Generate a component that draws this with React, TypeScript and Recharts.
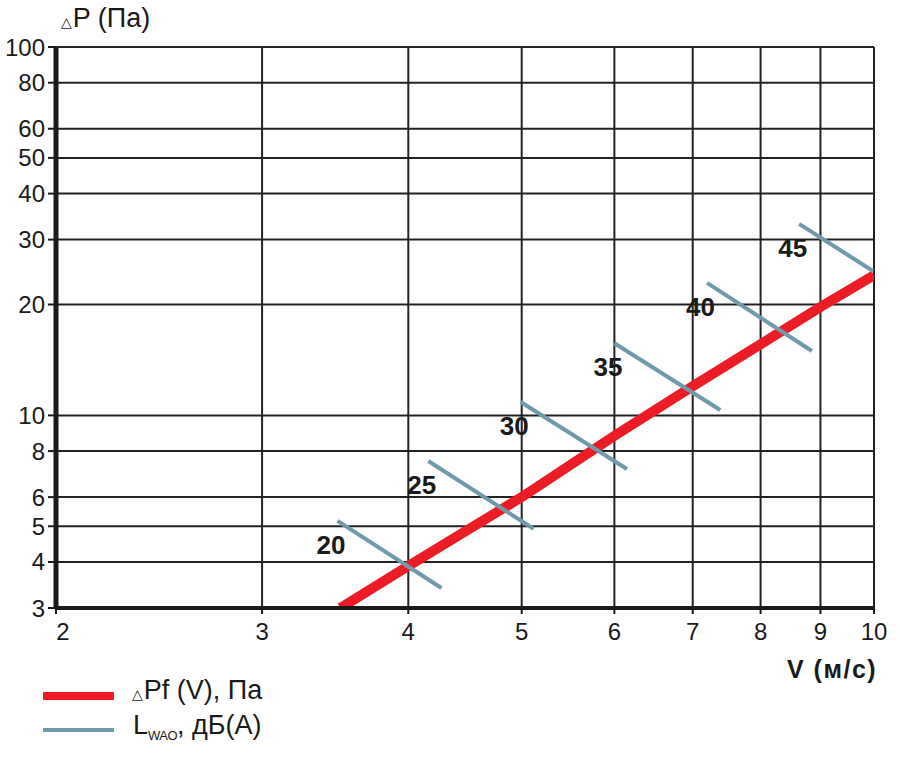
import { CartesianGrid, Line, LineChart, XAxis, YAxis } from "recharts";

// axis ticks (log-log chart)
const xTicks = [2, 3, 4, 5, 6, 7, 8, 9, 10];
const yTicks = [3, 4, 5, 6, 8, 10, 20, 30, 40, 50, 60, 80, 100];

// ΔPf(V), Pa
const pressureV = [3.5, 4, 5, 6, 7, 8, 9, 10];
const pressureP = [3, 3.9, 6.0, 8.8, 12.0, 15.6, 19.7, 24.0];

// LWAO, dB(A) — short blue segments crossing the red line
const noiseLevels = [20, 25, 30, 35, 40, 45];
const noiseStartV = [3.48, 4.16, 4.99, 6.0, 7.2, 8.63];
const noiseStartP = [5.17, 7.52, 10.87, 15.7, 22.9, 33.1];
const noiseEndV = [4.27, 5.12, 6.15, 7.39, 8.85, 9.98];
const noiseEndP = [3.4, 4.92, 7.15, 10.34, 14.95, 24.65];

const RED = "#ec1c24";
const BLUE = "#6e9aab";
const INK = "#1a1a1a";
const FONT = "'Liberation Sans', Arial, Helvetica, sans-serif";

export default function App() {
  const redData = pressureV.map((v, i) => ({ v, p: pressureP[i] }));
  const segments = noiseLevels.map((level, i) => ({
    level,
    data: [
      { v: noiseStartV[i], p: noiseStartP[i] },
      { v: noiseEndV[i], p: noiseEndP[i] },
    ],
  }));

  return (
    <div
      style={{
        position: "absolute",
        left: 0,
        top: 0,
        width: 900,
        height: 761,
        background: "#fff",
        fontFamily: FONT,
        color: INK,
      }}
    >
      <LineChart width={900} height={761} margin={{ top: 47, right: 26, bottom: 123, left: 0 }}>
        <CartesianGrid stroke="#222" strokeWidth={2} />
        <XAxis
          type="number"
          dataKey="v"
          scale="log"
          domain={[2, 10]}
          ticks={xTicks}
          interval={0}
          allowDataOverflow
          height={30}
          axisLine={{ stroke: INK, strokeWidth: 4 }}
          tickLine={{ stroke: INK, strokeWidth: 2 }}
          tickSize={6}
          tickMargin={9}
          tick={(p: any) => (
            <text
              x={p.x + (p.payload.value === 2 ? 7 : 0)}
              y={p.y}
              dy="0.71em"
              textAnchor="middle"
              fontSize={24}
              fontFamily={FONT}
              fill={INK}
            >
              {p.payload.value}
            </text>
          )}
        />
        <YAxis
          type="number"
          dataKey="p"
          scale="log"
          domain={[3, 100]}
          ticks={yTicks}
          interval={0}
          allowDataOverflow
          width={56}
          axisLine={{ stroke: INK, strokeWidth: 5 }}
          tickLine={{ stroke: INK, strokeWidth: 2 }}
          tickSize={8}
          tickMargin={3}
          tick={{ fontSize: 24, fontFamily: FONT, fill: INK }}
        />
        <Line
          data={redData}
          dataKey="p"
          type="linear"
          stroke={RED}
          strokeWidth={10}
          dot={false}
          activeDot={false}
          isAnimationActive={false}
        />
        {segments.map((s) => (
          <Line
            key={s.level}
            data={s.data}
            dataKey="p"
            type="linear"
            stroke={BLUE}
            strokeWidth={4}
            dot={false}
            activeDot={false}
            isAnimationActive={false}
            label={(props: any) =>
              props.index === 0 ? (
                <text
                  x={props.x + 8}
                  y={props.y + 33}
                  textAnchor="end"
                  fontSize={26}
                  fontWeight="bold"
                  fontFamily={FONT}
                  fill={INK}
                >
                  {s.level}
                </text>
              ) : (
                <g />
              )
            }
          />
        ))}
      </LineChart>

      {/* axis titles */}
      <div style={{ position: "absolute", left: 61, top: 3, fontSize: 27, whiteSpace: "nowrap" }}>
        <span style={{ fontSize: 14, fontFamily: "'DejaVu Sans'", marginRight: 1 }}>△</span>P (Па)
      </div>
      <div
        style={{
          position: "absolute",
          left: 787,
          top: 655,
          fontSize: 25,
          fontWeight: "bold",
          letterSpacing: 1.5,
          whiteSpace: "nowrap",
        }}
      >
        V (м/с)
      </div>

      {/* legend */}
      <div style={{ position: "absolute", left: 43, top: 692, width: 71, height: 8, background: RED }} />
      <div style={{ position: "absolute", left: 132, top: 675, fontSize: 27, whiteSpace: "nowrap" }}>
        <span style={{ fontSize: 14, fontFamily: "'DejaVu Sans'", marginRight: 1 }}>△</span>Pf (V), Па
      </div>
      <div style={{ position: "absolute", left: 43, top: 728, width: 71, height: 4, background: BLUE }} />
      <div style={{ position: "absolute", left: 133, top: 710, fontSize: 27, whiteSpace: "nowrap" }}>
        L
        <span style={{ fontSize: 13, position: "relative", top: 6, letterSpacing: -0.5 }}>WAO</span>, дБ(А)
      </div>
    </div>
  );
}
